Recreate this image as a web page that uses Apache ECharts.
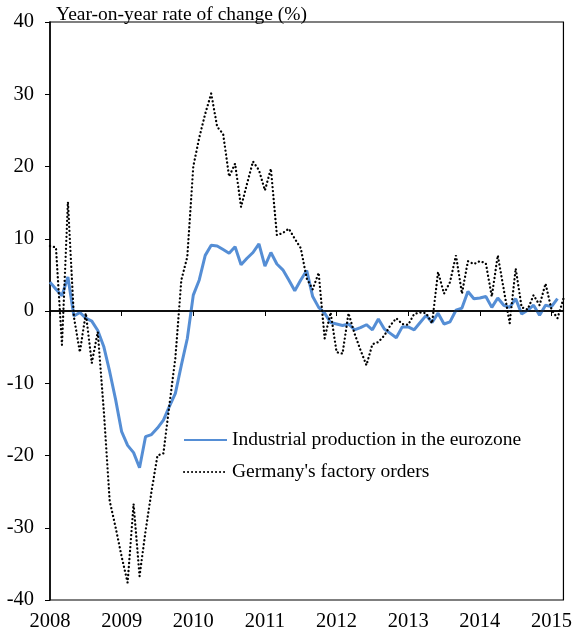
<!DOCTYPE html>
<html>
<head>
<meta charset="utf-8">
<script src="https://cdn.jsdelivr.net/npm/echarts@6/dist/echarts.min.js"></script>
<style>
html,body{margin:0;padding:0;background:#fff;}
#chart{width:575px;height:632px;}
</style>
</head>
<body>
<div id="chart"></div>
<script>
// Monthly data, Jan 2008 onward
const years = ['2008','2009','2010','2011','2012','2013','2014','2015'];
const yTicks = [-40,-30,-20,-10,0,10,20,30,40];

const production = [
  4.0, 3.0, 2.1, 4.7, -0.7, -0.2, -1.0, -1.4, -2.7, -4.9, -8.4, -12.3,
  -16.7, -18.6, -19.6, -21.7, -17.4, -17.1, -16.2, -15.1, -13.2, -11.4, -7.5, -3.8,
  2.2, 4.3, 7.7, 9.1, 9.0, 8.5, 8.0, 8.9, 6.4, 7.3, 8.1, 9.3,
  6.2, 8.1, 6.5, 5.7, 4.3, 2.8, 4.3, 5.6, 2.0, 0.5, -0.3, -1.6,
  -1.8, -2.0, -1.8, -2.6, -2.3, -1.9, -2.6, -1.1, -2.5, -3.1, -3.7, -2.2,
  -2.2, -2.6, -1.6, -0.6, -1.6, -0.3, -1.8, -1.5, 0.1, 0.4, 2.7, 1.7,
  1.8, 2.0, 0.5, 1.8, 0.8, 0.5, 1.7, -0.4, 0.1, 0.8, -0.6, 0.8,
  0.6, 1.7
];

const orders = [
  9.0, 8.8, -4.7, 15.1, -0.8, -5.7, -0.3, -7.2, -2.9, -13.7, -26.3, -30.0,
  -34.0, -37.6, -26.7, -36.7, -30.5, -25.0, -20.0, -19.7, -13.0, -6.5, 4.3, 7.5,
  20.0, 24.0, 27.3, 30.1, 25.5, 24.5, 18.6, 20.4, 14.4, 17.6, 20.7, 19.5,
  16.7, 19.7, 10.5, 10.8, 11.4, 10.0, 8.7, 4.5, 3.0, 5.3, -3.8, -0.2,
  -5.7, -5.9, -0.3, -3.1, -5.4, -7.5, -4.6, -4.3, -3.4, -2.0, -1.0, -1.8,
  -1.9, -0.4, -0.2, -0.3, -1.7, 5.4, 2.4, 4.0, 7.7, 2.4, 6.9, 6.5,
  6.9, 6.6, 2.0, 7.7, 3.0, -1.7, 5.9, 0.5, 0.2, 2.2, 0.8, 3.8,
  0.2, -1.0, 1.7
];

const seriesNames = ['Industrial production in the eurozone', "Germany's factory orders"];
const axisTitle = 'Year-on-year rate of change (%)';

const font = 'Liberation Serif';
const yearTickValues = years.map((y, i) => i * 12);
const toPairs = arr => arr.map((v, i) => [i, v]);

const chart = echarts.init(document.getElementById('chart'), null, {renderer: 'canvas'});
chart.setOption({
  animation: false,
  backgroundColor: '#fff',
  title: {
    text: axisTitle,
    left: 51, top: 0,
    textStyle: {fontFamily: font, fontSize: 19.5, fontWeight: 'normal', color: '#000'}
  },
  grid: {
    left: 50, right: 10, top: 22, bottom: 31,
    show: true, borderColor: '#000', borderWidth: 1.2, backgroundColor: 'transparent'
  },
  legend: {
    orient: 'vertical',
    left: 178, top: 425,
    itemWidth: 43, itemHeight: 12, itemGap: 12,
    itemStyle: {opacity: 0},
    textStyle: {fontFamily: font, fontSize: 19.5, color: '#000'},
    data: seriesNames
  },
  xAxis: {
    type: 'value', min: 0, max: 86,
    splitLine: {show: false},
    axisLine: {lineStyle: {color: '#000', width: 1.5}},
    axisTick: {show: true, length: 5, lineStyle: {color: '#000'}, customValues: yearTickValues},
    axisLabel: {
      customValues: yearTickValues,
      formatter: v => years[Math.round(v / 12)] || '',
      fontFamily: font, fontSize: 20.5, color: '#000', margin: 11
    }
  },
  yAxis: {
    type: 'value', min: yTicks[0], max: yTicks[yTicks.length - 1], interval: 10,
    splitLine: {show: false},
    axisLine: {show: true, lineStyle: {color: '#000', width: 1.5}},
    axisTick: {show: true, length: 5, lineStyle: {color: '#000'}},
    axisLabel: {fontFamily: font, fontSize: 20.5, color: '#000', margin: 16}
  },
  series: [
    {
      name: seriesNames[0], type: 'line', data: toPairs(production),
      showSymbol: false, symbol: 'none', z: 3,
      lineStyle: {color: '#558ed5', width: 3},
      itemStyle: {color: '#558ed5'},
      markLine: {
        silent: true, symbol: 'none', label: {show: false},
        lineStyle: {color: '#000', width: 1.5, type: 'solid'},
        data: [{yAxis: 0}]
      }
    },
    {
      name: seriesNames[1], type: 'line', data: toPairs(orders),
      showSymbol: false, symbol: 'none', z: 4,
      lineStyle: {color: '#000', width: 2.3, type: [0.1, 3.9], cap: 'round'},
      itemStyle: {color: '#000'}
    }
  ]
});
</script>
</body>
</html>
